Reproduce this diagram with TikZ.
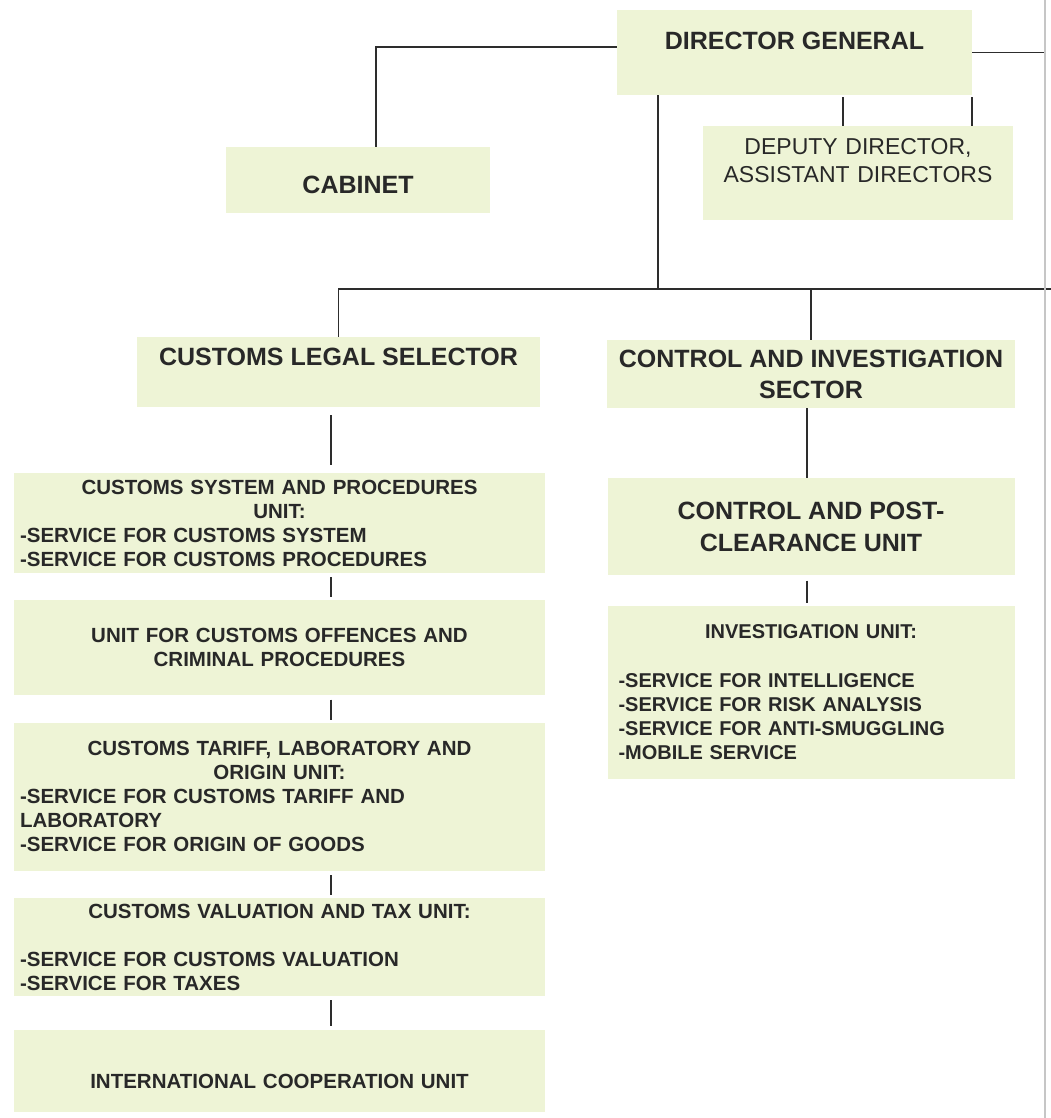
\documentclass[tikz,border=0pt]{standalone}
\usepackage{fontspec}
\setmainfont{Liberation Sans}
\usetikzlibrary{positioning}
\definecolor{boxgreen}{RGB}{238,244,214}
\definecolor{inkgray}{RGB}{40,40,40}
\definecolor{linegray}{RGB}{45,45,45}
\newcommand{\ctrline}[1]{\makebox[\linewidth]{#1}}

\begin{document}
\begin{tikzpicture}[x=1pt,y=1pt,node distance=27pt]
 \tikzstyle{unitbox}=[rectangle,fill=boxgreen,inner sep=0pt,text=inkgray]
 \tikzstyle{headbox}=[unitbox,align=center,font=\fontsize{25}{31}\selectfont\bfseries]
 \tikzstyle{listbox}=[unitbox,align=left,minimum width=531pt,text width=519pt,
   font=\fontsize{20.5}{24}\selectfont\bfseries]
 \tikzstyle{link}=[draw=linegray,line width=1.4pt]
 \fill[white] (0,0) rectangle (1051,-1118);
 \useasboundingbox (0,0) rectangle (1051,-1118);

 % top of the chart
 \node (dg) [headbox,minimum width=355pt,minimum height=85pt,text depth=23pt]
   at (794.5,-52.5) {DIRECTOR GENERAL};
 \node (dep) [unitbox,minimum width=310pt,minimum height=94pt,text width=300pt,
   align=center,text height=17pt,text depth=53pt,font=\fontsize{23}{28}\selectfont]
   at (858,-173) {DEPUTY DIRECTOR,\\ASSISTANT DIRECTORS};
 \node (cab) [headbox,minimum width=264pt,minimum height=66pt,text height=28pt]
   at (358,-180) {CABINET};

 % sectors
 \node (cls) [headbox,minimum width=403pt,minimum height=70pt,text depth=30pt]
   at (338.5,-372) {CUSTOMS LEGAL SELECTOR};
 \node (cis) [headbox,minimum width=408pt,minimum height=68pt]
   at (811,-374) {CONTROL AND INVESTIGATION\\SECTOR};

 % units of the legal sector
 \node (csp) [listbox,minimum height=100pt] at (279.5,-523)
   {\ctrline{CUSTOMS SYSTEM AND PROCEDURES}\\ \ctrline{UNIT:}\\
    -SERVICE FOR CUSTOMS SYSTEM\\ -SERVICE FOR CUSTOMS PROCEDURES};
 \node (off) [listbox,align=center,minimum height=95pt,below=of csp]
   {UNIT FOR CUSTOMS OFFENCES AND\\CRIMINAL PROCEDURES};
 \node (tar) [listbox,minimum height=148pt,below=of off]
   {\ctrline{CUSTOMS TARIFF, LABORATORY AND}\\ \ctrline{ORIGIN UNIT:}\\
    -SERVICE FOR CUSTOMS TARIFF AND\\ LABORATORY\\ -SERVICE FOR ORIGIN OF GOODS};
 \node (val) [listbox,minimum height=98pt,below=of tar]
   {\ctrline{CUSTOMS VALUATION AND TAX UNIT:}\\[24pt]
    -SERVICE FOR CUSTOMS VALUATION\\ -SERVICE FOR TAXES};
 \node (intl) [listbox,align=center,minimum height=82pt,text height=36.7pt,below=33pt of val]
   {INTERNATIONAL COOPERATION UNIT};

 % units of the control sector
 \node (cpc) [headbox,minimum width=407pt,minimum height=97pt,
   font=\fontsize{25}{32}\selectfont\bfseries,below=70pt of cis]
   {CONTROL AND POST-\\CLEARANCE UNIT};
 \node (inv) [listbox,minimum width=407pt,text width=385pt,minimum height=173pt,
   font=\fontsize{20}{24.3}\selectfont\bfseries,below=30pt of cpc]
   {\ctrline{INVESTIGATION UNIT:}\\[24.3pt]
    -SERVICE FOR INTELLIGENCE\\ -SERVICE FOR RISK ANALYSIS\\
    -SERVICE FOR ANTI-SMUGGLING\\ -MOBILE SERVICE};

 % connectors
 \coordinate (lx) at (331,0);
 \coordinate (rx) at (807,0);
 \coordinate (edge) at (1045,0);
 \coordinate (bus) at (1051,-289);
 \coordinate (trunk) at ([xshift=-136.5pt]dg.south);
 \coordinate (d1) at ([xshift=-15pt]dep.north);
 \coordinate (d2) at ([xshift=114pt]dep.north);

 \draw[link] ([yshift=5.5pt]dg.west) -| ([xshift=18pt]cab.north);
 \draw[link] (dg.east) -- (dg.east -| edge);
 \draw[link,shorten >=2pt] (d1) -- (d1 |- dg.south);
 \draw[link,shorten >=2pt] (d2) -- (d2 |- dg.south);
 \draw[link] (trunk) -- (trunk |- bus);
 \draw[link] (cls.north) |- (bus);
 \draw[link] (cis.north) -- (cis.north |- bus);

 \draw[link,shorten <=8pt,shorten >=8pt] (cls.south -| lx) -- (csp.north -| lx);
 \foreach \a/\b in {csp/off,off/tar,tar/val,val/intl}
   \draw[link,shorten <=4pt,shorten >=3pt] (\a.south -| lx) -- (\b.north -| lx);
 \draw[link] (cis.south -| rx) -- (cpc.north -| rx);
 \draw[link,shorten <=5pt,shorten >=3pt] (cpc.south -| rx) -- (inv.north -| rx);

 % edge of the page
 \draw[gray!45,line width=2.5pt] (edge) -- ++(0,-1118);
\end{tikzpicture}
\end{document}
